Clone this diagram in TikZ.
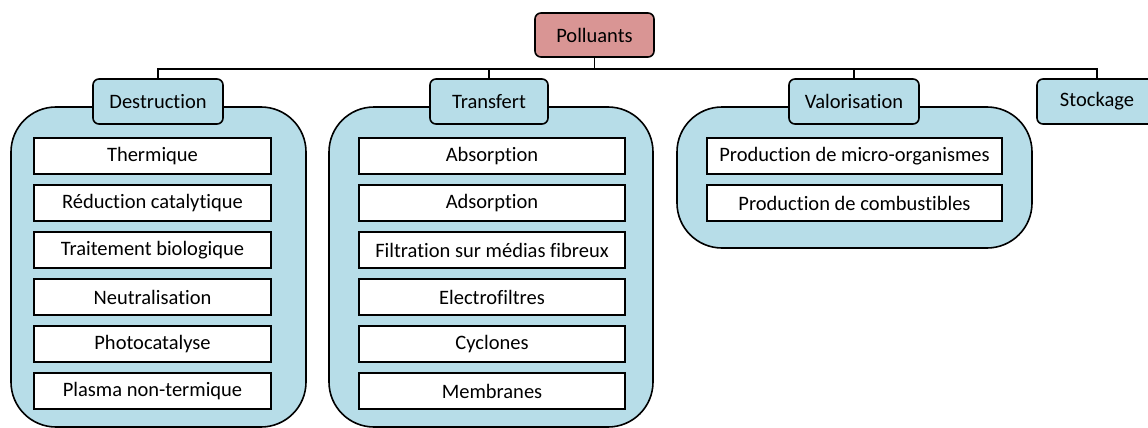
\documentclass[tikz,border=0pt]{standalone}
\usepackage{fontspec}
\setmainfont{Carlito}[Ligatures=NoCommon]
\usetikzlibrary{positioning}
\definecolor{bleu}{HTML}{B7DDE8}
\definecolor{rose}{HTML}{D99594}

\begin{document}
\begin{tikzpicture}[x=1pt, y=-1pt, line width=1.6pt, node distance=9.4pt,
  font=\fontsize{20.5}{24}\selectfont,
  bloc/.style={draw, fill=bleu, rounded corners=45pt, inner sep=0pt},
  titre/.style={draw, fill=bleu, rounded corners=6pt, minimum height=45pt, inner sep=0pt},
  item/.style={draw, fill=white, minimum height=36pt, inner sep=0pt}]
\useasboundingbox (0,0) rectangle (1148,428);
% Blocs
\node[bloc, minimum width=295pt, minimum height=320pt] (bdes) at (158.5,267) {};
\node[bloc, minimum width=324pt, minimum height=320pt] (btra) at (491,267) {};
\node[bloc, minimum width=355pt, minimum height=141pt] (bval) at (854.5,177.5) {};
% Titres
\node[draw, fill=rose, rounded corners=6pt, minimum width=119pt, minimum height=44pt] (poll) at (594.5,35) {Polluants};
\node[titre, minimum width=130pt] (des) at (158,101.5) {Destruction};
\node[titre, minimum width=118pt] (tra) at (489,101.5) {Transfert};
\node[titre, minimum width=130pt] (val) at (854,101.5) {Valorisation};
\node[titre, minimum width=120pt] (sto) at (1097,101.5) {Stockage};
% Destruction
\node[item, minimum width=237pt] (d1) at (152.5,156) {Thermique};
\node[item, minimum width=237pt, below=of d1] (d2) {Réduction catalytique};
\node[item, minimum width=237pt, below=of d2] (d3) {Traitement biologique};
\node[item, minimum width=237pt, below=of d3] (d4) {Neutralisation};
\node[item, minimum width=237pt, below=of d4] (d5) {Photocatalyse};
\node[item, minimum width=237pt, below=of d5] (d6) {Plasma non-termique};
% Transfert
\node[item, minimum width=266pt] (t1) at (492,156) {Absorption};
\node[item, minimum width=266pt, below=of t1] (t2) {Adsorption};
\node[item, minimum width=266pt, below=of t2] (t3) {Filtration sur médias fibreux};
\node[item, minimum width=266pt, below=of t3] (t4) {Electrofiltres};
\node[item, minimum width=266pt, below=of t4] (t5) {Cyclones};
\node[item, minimum width=266pt, below=of t5] (t6) {Membranes};
% Valorisation
\node[item, minimum width=295pt] (v1) at (854.5,156) {Production de micro-organismes};
\node[item, minimum width=295pt, below=of v1] (v2) {Production de combustibles};
% Liaisons
\draw (poll.south) -- ++(0,11) -| (des.north);
\draw (poll.south) -- ++(0,11) -| (tra.north);
\draw (poll.south) -- ++(0,11) -| (val.north);
\draw (poll.south) -- ++(0,11) -| (sto.north);
\end{tikzpicture}
\end{document}
